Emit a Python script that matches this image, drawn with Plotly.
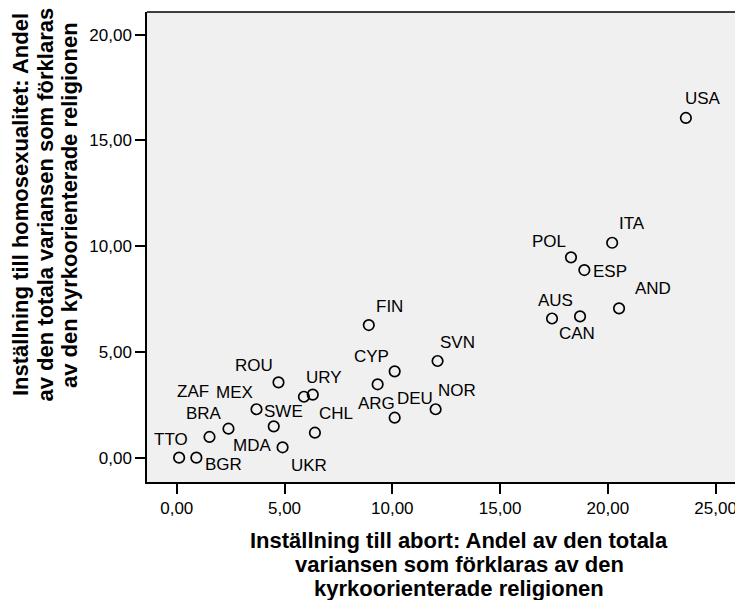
import plotly.graph_objects as go

# ---- data ----
countries = ["USA", "ITA", "POL", "ESP", "AND", "AUS", "CAN",
             "FIN", "SVN", "CYP", "ARG", "DEU", "NOR",
             "ROU", "URY", "MEX", "SWE", "ZAF", "BRA", "MDA", "UKR", "CHL", "TTO", "BGR"]
abort_share = [23.62, 20.20, 18.29, 18.91, 20.52, 17.41, 18.71,
               8.91, 12.10, 10.11, 9.32, 10.11, 12.01,
               4.72, 6.31, 5.90, 3.70, 2.40, 1.52, 4.50, 4.91, 6.41, 0.11, 0.91]
homo_share = [16.06, 10.16, 9.47, 8.87, 7.06, 6.58, 6.68,
              6.27, 4.57, 4.08, 3.47, 1.89, 2.29,
              3.56, 2.98, 2.88, 2.29, 1.37, 0.98, 1.48, 0.49, 1.18, 0.00, 0.00]

x_tick_values = [0, 5, 10, 15, 20, 25]
x_tick_labels = ["0,00", "5,00", "10,00", "15,00", "20,00", "25,00"]
y_tick_values = [0, 5, 10, 15, 20]
y_tick_labels = ["0,00", "5,00", "10,00", "15,00", "20,00"]

x_title_lines = ["Inställning till abort: Andel av den totala",
                 "variansen som förklaras av den",
                 "kyrkoorienterade religionen"]
y_title_lines = ["Inställning till homosexualitet: Andel",
                 "av den totala variansen som förklaras",
                 "av den kyrkoorienterade religionen"]

# ---- styling: label pixel offsets (dx right, dy down) ----
label_offsets = {
    "USA": (17, -19), "ITA": (20, -19), "POL": (-22, -16), "ESP": (26, 1),
    "AND": (34, -20), "AUS": (3, -18), "CAN": (-3, 17),
    "FIN": (21, -19), "SVN": (20, -19), "CYP": (-23, -15), "ARG": (-1, 19),
    "DEU": (20, -19), "NOR": (21, -19),
    "ROU": (-24, -17), "URY": (11, -17), "MEX": (-69, -4), "SWE": (27, 2),
    "ZAF": (-35, -37), "BRA": (-6, -23), "MDA": (-22, 19), "UKR": (26, 18),
    "CHL": (21, -19), "TTO": (-8, -18), "BGR": (27, 7),
}

FONT = "Arial, Liberation Sans, sans-serif"
BODY = 8  # default page body margin of the browser

fig = go.Figure()
fig.add_trace(go.Scatter(
    x=abort_share, y=homo_share, mode="markers", text=countries,
    hoverinfo="text", cliponaxis=False,
    marker=dict(symbol="circle-open", size=10.5, color="black",
                line=dict(width=1.7, color="black")),
    showlegend=False,
))

for c, xv, yv in zip(countries, abort_share, homo_share):
    dx, dy = label_offsets[c]
    fig.add_annotation(x=xv, y=yv, xref="x", yref="y", text=c, showarrow=False,
                       xshift=dx, yshift=-dy, xanchor="center", yanchor="middle",
                       font=dict(family=FONT, size=17, color="black"))

# plot area in page pixels
L, T, W, H = 147, 12, 596, 470
for i, line in enumerate(x_title_lines):
    py = 540 + 24 * i
    fig.add_annotation(x=(459 - L) / W, y=(T + H - py) / H, xref="paper", yref="paper",
                       text="<b>" + line + "</b>", showarrow=False,
                       xanchor="center", yanchor="middle",
                       font=dict(family=FONT, size=22, color="black"))
for i, line in enumerate(y_title_lines):
    px = 20 + 24.5 * i
    fig.add_annotation(x=(px - L) / W, y=(T + H - 205) / H, xref="paper", yref="paper",
                       text="<b>" + line + "</b>", showarrow=False, textangle=-90,
                       xanchor="center", yanchor="middle",
                       font=dict(family=FONT, size=22, color="black"))

# top frame line
fig.add_shape(type="line", xref="paper", yref="paper", x0=0, x1=1, y0=1, y1=1,
              line=dict(color="black", width=1.5))

axis_common = dict(showgrid=False, zeroline=False, showline=True, linecolor="black",
                   linewidth=1.5, ticks="outside", ticklen=10, tickwidth=2,
                   tickcolor="black", tickfont=dict(family=FONT, size=17, color="black"))

fig.update_xaxes(range=[-1.38, 26.27], tickvals=x_tick_values, ticktext=x_tick_labels,
                 **axis_common)
fig.update_yaxes(range=[-1.15, 21.07], tickvals=y_tick_values, ticktext=y_tick_labels,
                 **axis_common)

FIG_W, FIG_H = 743 - BODY, 600 - BODY
fig.update_layout(
    width=FIG_W, height=FIG_H,
    margin=dict(l=L - BODY, r=0, t=T - BODY, b=FIG_H - (T + H - BODY)),
    plot_bgcolor="#F0F0F0", paper_bgcolor="white",
    font=dict(family=FONT, color="black"),
)

fig.write_html("out.html")
